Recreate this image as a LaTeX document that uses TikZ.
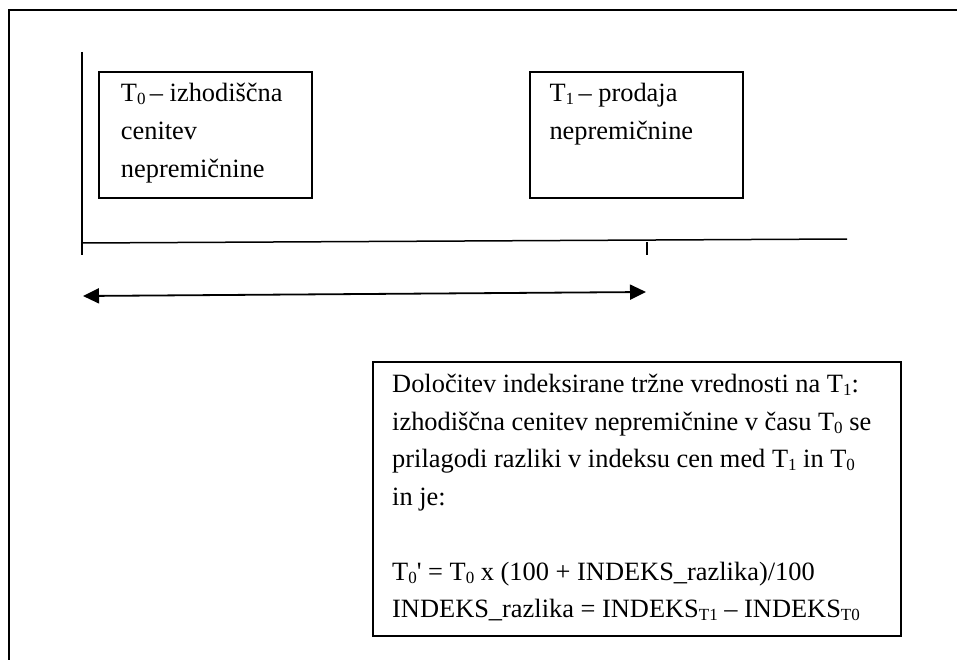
\documentclass[tikz,border=0pt]{standalone}
\usepackage{fontspec}
\setmainfont{Liberation Serif}
\usetikzlibrary{arrows.meta}
\newcommand{\subsc}[1]{\raisebox{-3pt}{\fontsize{17}{17}\selectfont #1}}
\tikzset{
  frameline/.style={line width=2pt, line join=miter},
  axisline/.style={line width=1.5pt},
  boxnode/.style={draw, line width=1.6pt, inner sep=0pt, anchor=north west},
  txt/.style={inner sep=0pt, anchor=base west, font=\fontsize{26.4}{37.5}\selectfont},
  dblarrow/.style={line width=1.8pt, {Triangle[length=16pt,width=15pt]}-{Triangle[length=16pt,width=15pt]}}
}
\begin{document}
\begin{tikzpicture}[x=1pt,y=-1pt]
\useasboundingbox (0,0) rectangle (957,660);
% outer frame (clipped)
\coordinate (fTR) at (957,9.8);
\coordinate (fTL) at (8.5,9.8);
\coordinate (fBL) at (8.5,660);
\draw[frameline] (fTR) -- (fTL) -- (fBL);
% axes
\coordinate (vTop) at (82,52);
\coordinate (vBot) at (82,255);
\coordinate (hL) at (82,243);
\coordinate (hR) at (847,239);
\coordinate (tickT) at (647,242);
\coordinate (tickB) at (647,255);
\draw[axisline] (vTop) -- (vBot);
\draw[axisline] (hL) -- (hR);
\draw[line width=2pt] (tickT) -- (tickB);
% double arrow
\coordinate (aL) at (83,296);
\coordinate (aR) at (646,292);
\draw[dblarrow] (aL) -- (aR);
% boxes
\node[boxnode, minimum width=213, minimum height=126] (b1) at (98,71) {};
\node[boxnode, minimum width=213, minimum height=126] (b2) at (529,71) {};
\node[boxnode, minimum width=528, minimum height=274] (b3) at (372,361) {};
% box 1 text
\node[txt] (b1l1) at (120.7,102) {T\subsc{0}\,– izhodiščna};
\node[txt] (b1l2) at (120.7,140) {cenitev};
\node[txt] (b1l3) at (120.7,178) {nepremičnine};
% box 2 text
\node[txt] (b2l1) at (549.3,102) {T\subsc{1}\,– prodaja};
\node[txt] (b2l2) at (549.3,140) {nepremičnine};
% box 3 text
\node[txt] (b3l1) at (392,392.5) {Določitev indeksirane tržne vrednosti na T\subsc{1}:};
\node[txt] (b3l2) at (392,430) {izhodiščna cenitev nepremičnine v času T\subsc{0} se};
\node[txt] (b3l3) at (392,467.5) {prilagodi razliki v indeksu cen med T\subsc{1} in T\subsc{0}};
\node[txt] (b3l4) at (392,505) {in je:};
\node[txt] (b3l5) at (392,580) {T\subsc{0}\textquotesingle{} = T\subsc{0} x (100 + INDEKS\_razlika)/100};
\node[txt] (b3l6) at (392,617.5) {INDEKS\_razlika = INDEKS\subsc{T1} – INDEKS\subsc{T0}};
\end{tikzpicture}
\end{document}
